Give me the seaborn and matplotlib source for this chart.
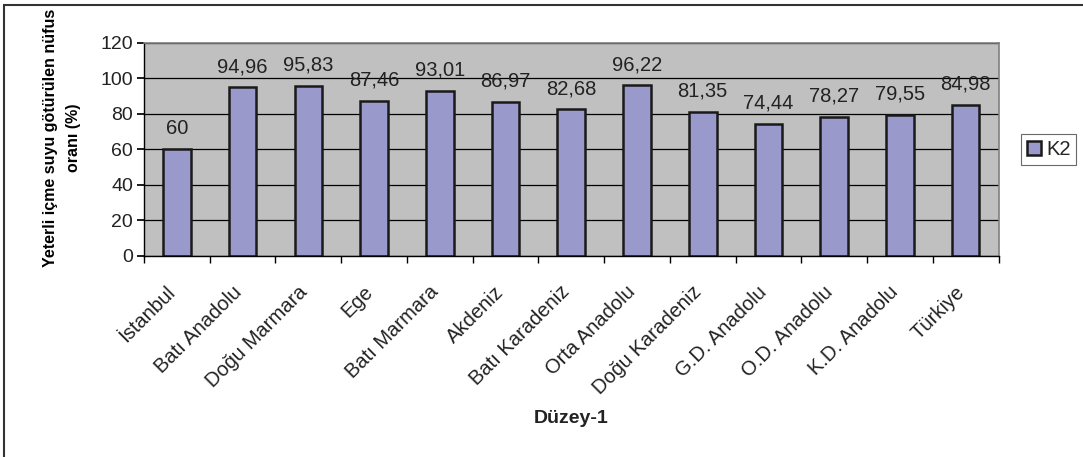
"""Yeterli içme suyu götürülen nüfus oranı, Düzey-1 bölgeleri."""

import matplotlib.pyplot as plt
from matplotlib.patches import Rectangle
from matplotlib.ticker import FixedLocator, MultipleLocator, NullFormatter
from matplotlib.transforms import ScaledTranslation
import pandas as pd
import seaborn as sns

regions = ["İstanbul", "Batı Anadolu", "Doğu Marmara", "Ege", "Batı Marmara",
           "Akdeniz", "Batı Karadeniz", "Orta Anadolu", "Doğu Karadeniz",
           "G.D. Anadolu", "O.D. Anadolu", "K.D. Anadolu", "Türkiye"]
values = [60, 94.96, 95.83, 87.46, 93.01, 86.97, 82.68, 96.22, 81.35,
          74.44, 78.27, 79.55, 84.98]
series_name = "K2"

sns.set_theme(style="white")
plt.rcParams['font.family'] = ['Liberation Sans', 'DejaVu Sans']

df = pd.DataFrame({"region": regions, "value": values, "series": series_name})

fig = plt.figure(figsize=(10.83, 4.57), dpi=100)
ax = fig.add_axes([0.133, 0.44, 0.789, 0.466])

sns.barplot(data=df, x="region", y="value", hue="series",
            palette=["#9999CC"], width=0.42, edgecolor="#1a1a1a",
            linewidth=1.8, saturation=1, ax=ax)

# Excel-like plot area
ax.set_facecolor("#C0C0C0")
ax.set_axisbelow(True)
ax.set_ylim(0, 120)
ax.set_xlim(-0.5, len(regions) - 0.5)
ax.yaxis.set_major_locator(MultipleLocator(20))
ax.grid(axis="y", color="black", linewidth=0.9)
for side in ("top", "right"):
    ax.spines[side].set_color("#808080")
    ax.spines[side].set_linewidth(1.2)
for side in ("left", "bottom"):
    ax.spines[side].set_color("black")
    ax.spines[side].set_linewidth(1.0)

ax.tick_params(axis="y", which="major", direction="out", length=5,
               color="black", labelsize=14, pad=3, left=True)
ax.tick_params(axis="x", which="major", length=0, labelsize=14.5, pad=19)
ax.xaxis.set_minor_locator(FixedLocator([i - 0.5 for i in range(len(regions) + 1)]))
ax.xaxis.set_minor_formatter(NullFormatter())
ax.tick_params(axis="x", which="minor", direction="out", length=5,
               color="black", bottom=True)
shift = ScaledTranslation(-0.11, 0, fig.dpi_scale_trans)
for lbl in ax.get_xticklabels():
    lbl.set_rotation(45)
    lbl.set_ha("right")
    lbl.set_rotation_mode("anchor")
    lbl.set_color("#222222")
    lbl.set_transform(lbl.get_transform() + shift)
plt.setp(ax.get_yticklabels(), color="#222222")

# value labels with comma decimals
labels = [f"{v:g}".replace(".", ",") for v in values]
ax.bar_label(ax.containers[0], labels=labels, padding=8, fontsize=14.5,
             color="#222222")

ax.set_xlabel("Düzey-1", fontsize=14, fontweight="bold", color="#222222")
ax.xaxis.set_label_coords(0.5, -0.723)
ax.set_ylabel("Yeterli içme suyu götürülen nüfus\noranı (%)", fontsize=11.5,
              fontweight="bold", color="black", linespacing=1.65)
ax.yaxis.set_label_coords(-0.074, 0.556)

handles, names = ax.get_legend_handles_labels()
ax.legend(handles, names, loc="center left", bbox_to_anchor=(1.026, 0.5),
          frameon=True, fancybox=False, edgecolor="#444444", fontsize=14.5,
          handlelength=0.7, handleheight=0.7, handletextpad=0.25,
          borderpad=0.3, borderaxespad=0)
ax.get_legend().get_frame().set_linewidth(0.8)

# outer chart border (right and bottom sides run off the image)
fig.patches.append(Rectangle((0.0037, -0.1), 1.0, 1.089,
                             transform=fig.transFigure, fill=False,
                             edgecolor="#333333", linewidth=1.5))

fig.savefig("out.png", dpi=100)
